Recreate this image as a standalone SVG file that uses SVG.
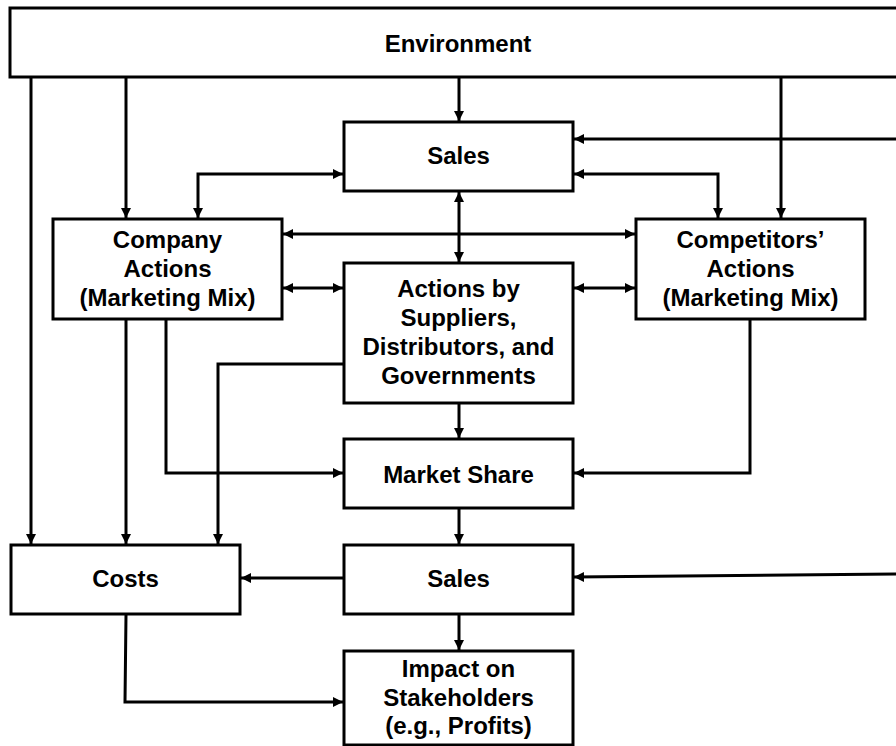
<svg xmlns="http://www.w3.org/2000/svg" width="896" height="746" viewBox="0 0 896 746">
<defs>
<style>
.box{fill:#fff;stroke:#000;stroke-width:3}
.t{font-family:"Liberation Sans",Arial,sans-serif;font-weight:bold;font-size:24px;fill:#000;text-anchor:middle}
.c{fill:none;stroke:#000;stroke-width:3;marker-end:url(#ah)}
.d{marker-start:url(#ah)}
</style>
<marker id="ah" markerUnits="userSpaceOnUse" markerWidth="11" markerHeight="11" refX="10" refY="5" orient="auto-start-reverse" viewBox="0 0 11 10">
<path d="M0,0 L10,5 L0,10 z" fill="#000"/>
</marker>
</defs>
<rect width="896" height="746" fill="#fff"/>
<g id="connectors">
<path class="c" d="M31,77 V544"/>
<path class="c" d="M126,77 V218"/>
<path class="c" d="M459,77 V121"/>
<path class="c" d="M781,77 V218"/>
<path class="c" d="M896,139 H574"/>
<path class="c d" d="M343,174 H198 V218"/>
<path class="c d" d="M574,174 H718 V218"/>
<path class="c d" d="M283,234 H635"/>
<path class="c d" d="M459,192 V262"/>
<path class="c d" d="M283,288 H343"/>
<path class="c d" d="M574,288 H635"/>
<path class="c" d="M459,404 V438"/>
<path class="c" d="M166,320 V473 H343"/>
<path class="c" d="M126,320 V544"/>
<path class="c" d="M343,364 H218 V544"/>
<path class="c" d="M750,320 V473 H574"/>
<path class="c" d="M459,509 V544"/>
<path class="c" d="M896,574 L574,577"/>
<path class="c" d="M343,578 H241"/>
<path class="c" d="M459,615 V650"/>
<path class="c" d="M126,615 L125,702 H343"/>
</g>
<g id="environment">
<rect class="box" x="10" y="8" width="900" height="69"/>
<text class="t" x="458" y="52">Environment</text>
</g>
<g id="sales-top">
<rect class="box" x="344" y="122" width="229" height="69"/>
<text class="t" x="458.5" y="164">Sales</text>
</g>
<g id="company-actions">
<rect class="box" x="53" y="219" width="229" height="100"/>
<text class="t" x="167.5" y="248">Company</text>
<text class="t" x="167.5" y="277">Actions</text>
<text class="t" x="167.5" y="306">(Marketing Mix)</text>
</g>
<g id="competitors-actions">
<rect class="box" x="636" y="219" width="229" height="100"/>
<text class="t" x="750.5" y="248">Competitors’</text>
<text class="t" x="750.5" y="277">Actions</text>
<text class="t" x="750.5" y="306">(Marketing Mix)</text>
</g>
<g id="actions-by">
<rect class="box" x="344" y="263" width="229" height="140"/>
<text class="t" x="458.5" y="297">Actions by</text>
<text class="t" x="458.5" y="326">Suppliers,</text>
<text class="t" x="458.5" y="355">Distributors, and</text>
<text class="t" x="458.5" y="384">Governments</text>
</g>
<g id="market-share">
<rect class="box" x="344" y="439" width="229" height="69"/>
<text class="t" x="458.5" y="483">Market Share</text>
</g>
<g id="costs">
<rect class="box" x="11" y="545" width="229" height="69"/>
<text class="t" x="125.5" y="587">Costs</text>
</g>
<g id="sales-bottom">
<rect class="box" x="344" y="545" width="229" height="69"/>
<text class="t" x="458.5" y="587">Sales</text>
</g>
<g id="impact">
<rect class="box" x="344" y="651" width="229" height="94"/>
<text class="t" x="458.5" y="677">Impact on</text>
<text class="t" x="458.5" y="706">Stakeholders</text>
<text class="t" x="458.5" y="734">(e.g., Profits)</text>
</g>
</svg>
